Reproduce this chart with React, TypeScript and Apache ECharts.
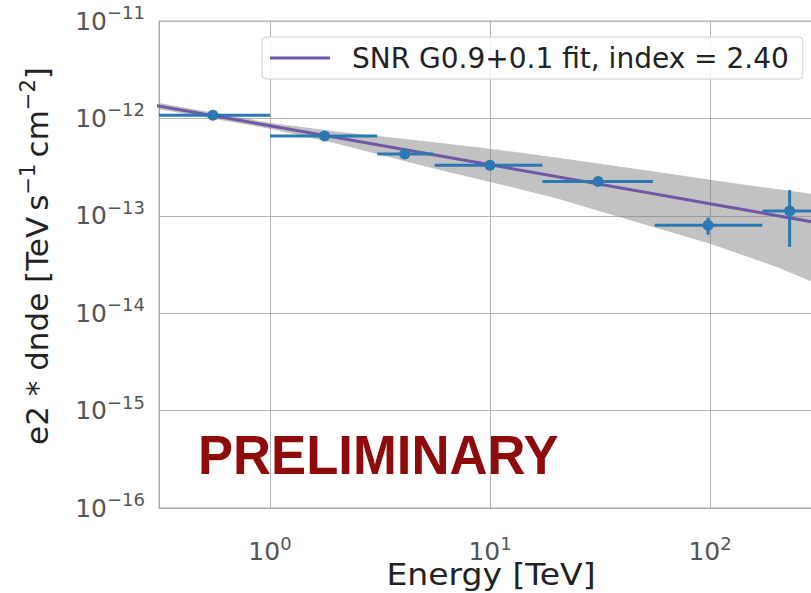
import React, { useEffect, useRef } from "react";
import * as echarts from "echarts";

const fitName = "SNR G0.9+0.1 fit, index = 2.40";

// flux points (E in TeV, E^2 dN/dE in TeV s^-1 cm^-2)
const pointE = [0.55, 1.77, 4.1, 10.0, 31, 98, 230];
const pointEmin = [0.3, 1.0, 3.07, 5.6, 17.3, 56, 173];
const pointEmax = [1.0, 3.07, 5.5, 17.3, 55, 173, 400];
const pointFlux = [1.08e-12, 6.6e-13, 4.3e-13, 3.3e-13, 2.25e-13, 8.0e-14, 1.12e-13];
const pointFluxLo = [1.02e-12, 6.3e-13, 4.1e-13, 3.1e-13, 2.1e-13, 6.4e-14, 4.8e-14];
const pointFluxHi = [1.14e-12, 6.9e-13, 4.5e-13, 3.5e-13, 2.4e-13, 9.6e-14, 1.84e-13];

// fitted power law
const fitE = [0.3, 1, 10, 100, 300];
const fitFlux = [1.36e-12, 8.4e-13, 3.34e-13, 1.33e-13, 8.57e-14];

// error band of the fit
const bandE = [0.3, 1, 2, 5, 10, 20, 50, 100, 200, 300];
const bandUpper = [1.46e-12, 9.02e-13, 7.35e-13, 5.85e-13, 4.88e-13, 3.97e-13, 2.95e-13, 2.34e-13, 1.88e-13, 1.66e-13];
const bandLower = [1.265e-12, 7.82e-13, 5.52e-13, 3.24e-13, 2.23e-13, 1.51e-13, 8.2e-14, 5.16e-14, 3.0e-14, 2.05e-14];

const xRange = [0.313, 300];
const yRange = [1e-16, 1e-11];

const FONT = "DejaVu Sans";
const POINT_COLOR = "#2b78b3";
const FIT_COLOR = "#7058a6";

function powerLabel(v: number) {
  const l = Math.log10(v);
  const e = Math.round(l);
  if (Math.abs(l - e) > 0.01) return "";
  const s = e < 0 ? "\u2212" + Math.abs(e) : String(e);
  return "{b|10}{s|" + s + "}";
}

export default function App() {
  const ref = useRef<HTMLDivElement>(null);
  useEffect(() => {
    if (!ref.current) return;
    const chart = echarts.init(ref.current, null, { renderer: "svg" });
    const errData = pointE.map((e, i) => [e, pointFlux[i], pointEmin[i], pointEmax[i], pointFluxLo[i], pointFluxHi[i]]);
    const tickRich = {
      b: { fontSize: 25, fontFamily: FONT, color: "#555" },
      s: { fontSize: 18, fontFamily: FONT, color: "#555", padding: [0, 0, 17, 0] },
    };
    const option: any = {
      animation: false,
      backgroundColor: "#fff",
      grid: { left: 159, right: 15, top: 21, bottom: 85, show: true, borderColor: "#aaa", borderWidth: 1 },
      legend: {
        data: [fitName],
        left: 262,
        top: 37,
        padding: [7, 14, 7, 8],
        icon: "rect",
        itemWidth: 60,
        itemHeight: 3,
        borderColor: "#d0d0d0",
        borderWidth: 1,
        borderRadius: 4,
        backgroundColor: "rgba(255,255,255,0.85)",
        textStyle: { fontSize: 28, color: "#222", fontFamily: FONT, padding: [0, 0, 0, 17] },
      },
      xAxis: {
        type: "log",
        logBase: 10,
        min: xRange[0],
        max: xRange[1],
        splitNumber: 3,
        axisLine: { show: true, lineStyle: { color: "#aaa" } },
        axisTick: { show: false },
        splitLine: { show: true, lineStyle: { color: "#b4b4b4", width: 1 } },
        axisLabel: { formatter: powerLabel, rich: tickRich, margin: 26, showMinLabel: false, showMaxLabel: false },
      },
      yAxis: {
        type: "log",
        logBase: 10,
        min: yRange[0],
        max: yRange[1],
        splitNumber: 5,
        axisLine: { show: true, lineStyle: { color: "#aaa" } },
        axisTick: { show: false },
        splitLine: { show: true, lineStyle: { color: "#b4b4b4", width: 1 } },
        axisLabel: { formatter: powerLabel, rich: tickRich, margin: 14 },
      },
      graphic: [
        {
          type: "text",
          x: 37,
          y: 256,
          rotation: Math.PI / 2,
          style: {
            text: "e2 * dnde [TeV\u2009s{s|\u22121}\u2009cm{s|\u22122}]",
            fontSize: 31,
            fontFamily: FONT,
            fill: "#222",
            align: "center",
            verticalAlign: "middle",
            rich: { s: { fontSize: 21, fontFamily: FONT, fill: "#222", padding: [0, 0, 18, 0] } },
          },
        },
        {
          type: "text",
          x: 491,
          y: 575,
          scaleX: 1.1,
          style: { text: "Energy [TeV]", fontSize: 30, fontFamily: FONT, fill: "#222", align: "center", verticalAlign: "middle" },
        },
        {
          type: "text",
          x: 198,
          y: 455,
          scaleX: 0.94,
          z: 100,
          style: {
            text: "PRELIMINARY",
            fontSize: 56,
            fontWeight: "bold",
            fontFamily: "Liberation Sans",
            fill: "#8f0a0a",
            align: "left",
            verticalAlign: "middle",
          },
        },
      ],
      series: [
        {
          type: "custom",
          name: "band",
          z: 1,
          clip: true,
          data: [[bandE[0], bandUpper[0]]],
          encode: { x: 0, y: 1 },
          renderItem: (params: any, api: any) => {
            const up = bandE.map((e, i) => api.coord([e, bandUpper[i]]));
            const lo = bandE.map((e, i) => api.coord([e, bandLower[i]])).reverse();
            return { type: "polygon", shape: { points: up.concat(lo) }, style: { fill: "rgba(128,128,128,0.48)" } };
          },
          silent: true,
        },
        {
          type: "line",
          name: fitName,
          z: 3,
          data: fitE.map((e, i) => [e, fitFlux[i]]),
          symbol: "none",
          showSymbol: false,
          lineStyle: { color: FIT_COLOR, width: 3 },
          itemStyle: { color: FIT_COLOR },
        },
        {
          type: "custom",
          name: "points",
          z: 4,
          clip: true,
          data: errData,
          encode: { x: 0, y: 1 },
          renderItem: (params: any, api: any) => {
            const x = api.value(0);
            const y = api.value(1);
            const c = api.coord([x, y]);
            const l = api.coord([api.value(2), y]);
            const r = api.coord([api.value(3), y]);
            const lo = api.coord([x, api.value(4)]);
            const hi = api.coord([x, api.value(5)]);
            const st = { stroke: POINT_COLOR, lineWidth: 3 };
            return {
              type: "group",
              children: [
                { type: "line", shape: { x1: l[0], y1: l[1], x2: r[0], y2: r[1] }, style: st },
                { type: "line", shape: { x1: hi[0], y1: hi[1], x2: lo[0], y2: lo[1] }, style: st },
                { type: "circle", shape: { cx: c[0], cy: c[1], r: 5.5 }, style: { fill: POINT_COLOR } },
              ],
            };
          },
        },
      ],
    };
    chart.setOption(option);
    return () => chart.dispose();
  }, []);
  return (
    <div style={{ position: "absolute", left: 0, top: 0, width: 811, height: 593, overflow: "hidden", background: "#fff" }}>
      <div ref={ref} style={{ width: 830, height: 593 }} />
    </div>
  );
}
